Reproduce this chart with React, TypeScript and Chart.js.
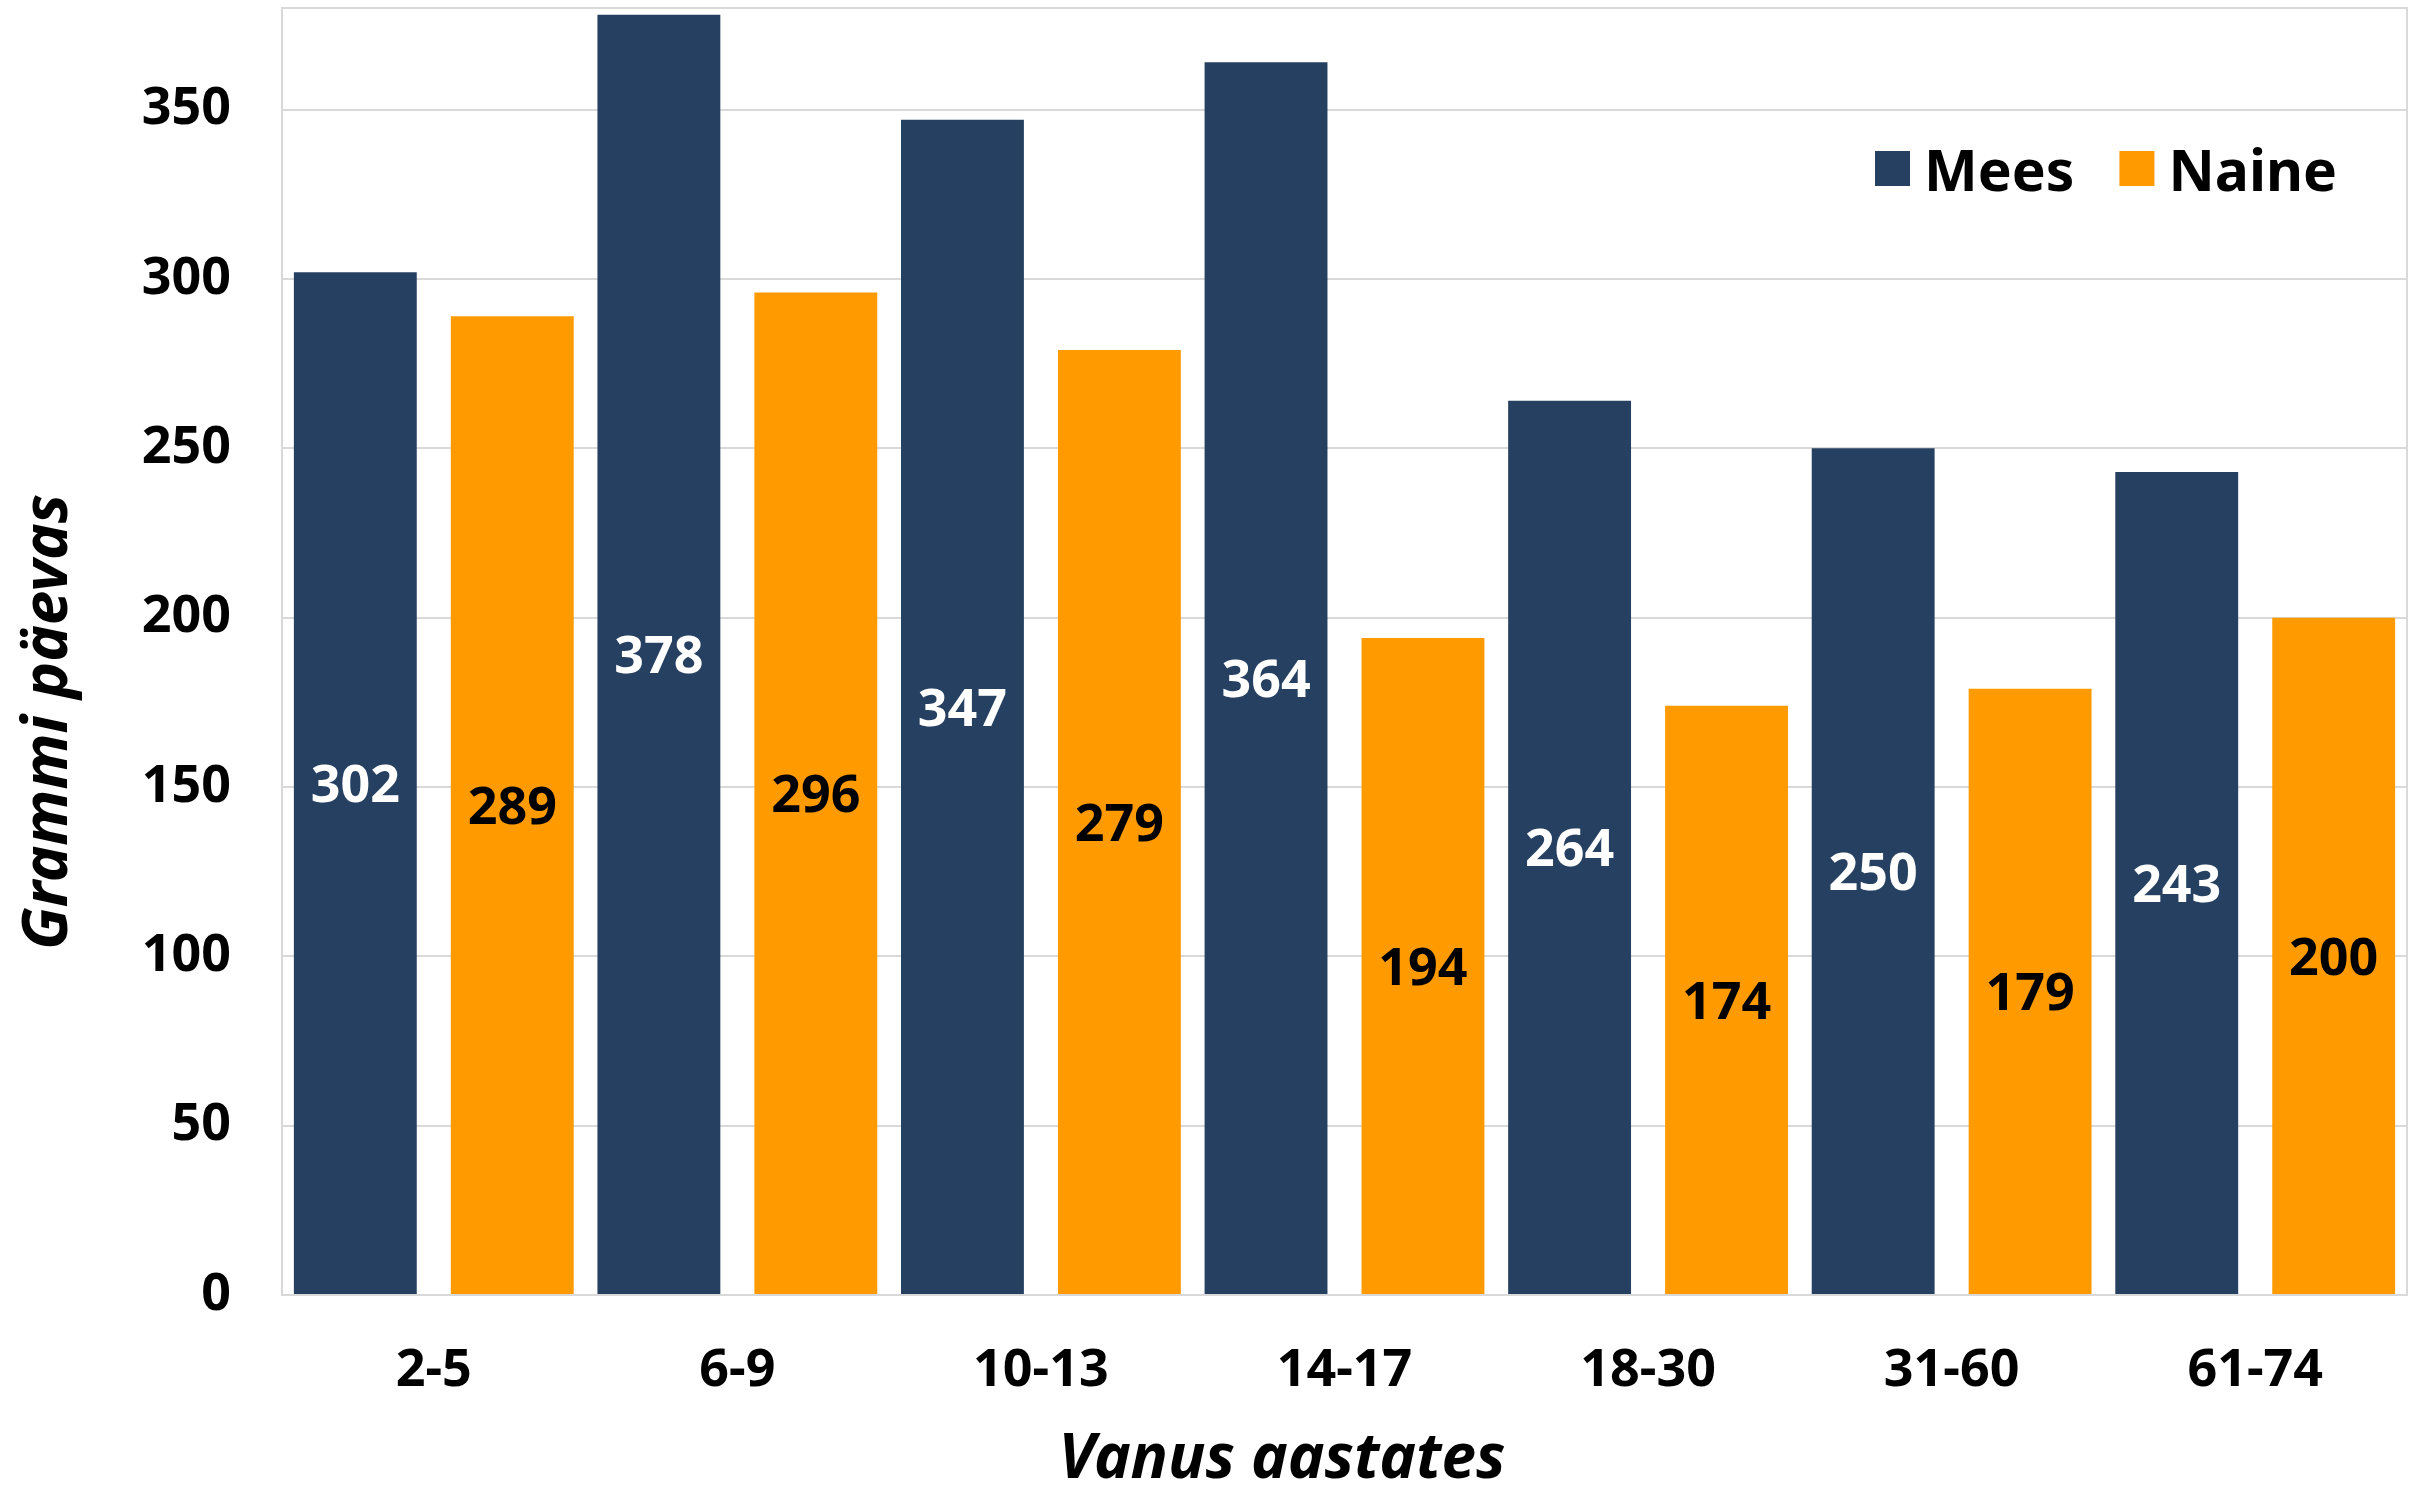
import React, { useEffect, useRef } from "react";
import { Chart, registerables } from "chart.js";

Chart.register(...registerables);

const categories = ["2-5", "6-9", "10-13", "14-17", "18-30", "31-60", "61-74"];
const meesValues = [302, 378, 347, 364, 264, 250, 243];
const naineValues = [289, 296, 279, 194, 174, 179, 200];
const seriesNames = ["Mees", "Naine"];
const seriesColors = ["#264062", "#ff9a00"];
const labelColors = ["#ffffff", "#000000"];
const yTitle = "Grammi päevas";
const xTitle = "Vanus aastates";

const FONT = "'Noto Sans', sans-serif";

const decorPlugin = {
  id: "decor",
  beforeDatasetsDraw(chart: any) {
    const { ctx, chartArea } = chart;
    ctx.save();
    ctx.strokeStyle = "#d9d9d9";
    ctx.lineWidth = 2;
    ctx.beginPath();
    ctx.moveTo(chartArea.left, chartArea.top);
    ctx.lineTo(chartArea.right, chartArea.top);
    ctx.lineTo(chartArea.right, chartArea.bottom);
    ctx.stroke();
    ctx.restore();
  },
  afterDatasetsDraw(chart: any) {
    const { ctx } = chart;
    ctx.save();
    ctx.font = `bold 52px ${FONT}`;
    ctx.textAlign = "center";
    ctx.textBaseline = "middle";
    chart.data.datasets.forEach((ds: any, i: number) => {
      const meta = chart.getDatasetMeta(i);
      meta.data.forEach((el: any, j: number) => {
        ctx.fillStyle = labelColors[i];
        ctx.fillText(String(ds.data[j]), el.x, (el.y + el.base) / 2 + 4);
      });
    });
    ctx.restore();
  },
  afterDraw(chart: any) {
    const { ctx, chartArea } = chart;
    ctx.save();
    // legend inside plot area, top right
    ctx.font = `bold 57px ${FONT}`;
    ctx.textBaseline = "alphabetic";
    ctx.textAlign = "left";
    let x = chartArea.right - 532;
    const boxTop = chartArea.top + 143;
    const baseY = chartArea.top + 183;
    chart.data.datasets.forEach((ds: any, i: number) => {
      ctx.fillStyle = seriesColors[i];
      ctx.fillRect(x, boxTop, 35, 35);
      ctx.fillStyle = "#000000";
      ctx.fillText(ds.label, x + 49, baseY);
      x += 49 + ctx.measureText(ds.label).width + 45;
    });
    // axis titles
    ctx.font = `italic bold 62px ${FONT}`;
    ctx.fillStyle = "#000000";
    ctx.textAlign = "center";
    ctx.fillText(xTitle, 1282, 1478);
    ctx.translate(67, 722);
    ctx.rotate(-Math.PI / 2);
    ctx.fillText(yTitle, 0, 0);
    ctx.restore();
  },
};

export default function App() {
  const ref = useRef<HTMLCanvasElement | null>(null);
  useEffect(() => {
    document.body.style.margin = "0";
    const canvas = ref.current!;
    const chart = new Chart(canvas, {
      type: "bar",
      data: {
        labels: categories,
        datasets: [
          { label: seriesNames[0], data: meesValues, backgroundColor: seriesColors[0] },
          { label: seriesNames[1], data: naineValues, backgroundColor: seriesColors[1] },
        ],
      },
      options: {
        responsive: false,
        animation: false,
        devicePixelRatio: 1,
        layout: { padding: { left: 0, top: 8, right: 11, bottom: 0 } },
        datasets: { bar: { categoryPercentage: 1.034, barPercentage: 0.783 } },
        plugins: { legend: { display: false }, tooltip: { enabled: false } },
        scales: {
          x: {
            grid: { display: false },
            border: { display: true, color: "#d9d9d9", width: 2 },
            ticks: { color: "#000", font: { family: FONT, size: 52, weight: "bold" }, padding: 37 },
            afterFit: (s: any) => { s.height = 193; s.paddingLeft = 0; s.paddingRight = 0; },
          },
          y: {
            min: 0,
            max: 380,
            grid: { color: "#d9d9d9", lineWidth: 2, drawTicks: false },
            border: { display: true, color: "#d9d9d9", width: 2 },
            ticks: { stepSize: 50, color: "#000", font: { family: FONT, size: 52, weight: "bold" }, padding: 51 },
            afterBuildTicks: (s: any) => { s.ticks = s.ticks.filter((t: any) => t.value % 50 === 0); },
            afterFit: (s: any) => { s.width = 282; s.paddingTop = 0; s.paddingBottom = 0; },
          },
        },
      } as any,
      plugins: [decorPlugin],
    });
    return () => chart.destroy();
  }, []);
  return (
    <div style={{ width: 2418, height: 1488, background: "#fff" }}>
      <canvas ref={ref} width={2418} height={1488} />
    </div>
  );
}
